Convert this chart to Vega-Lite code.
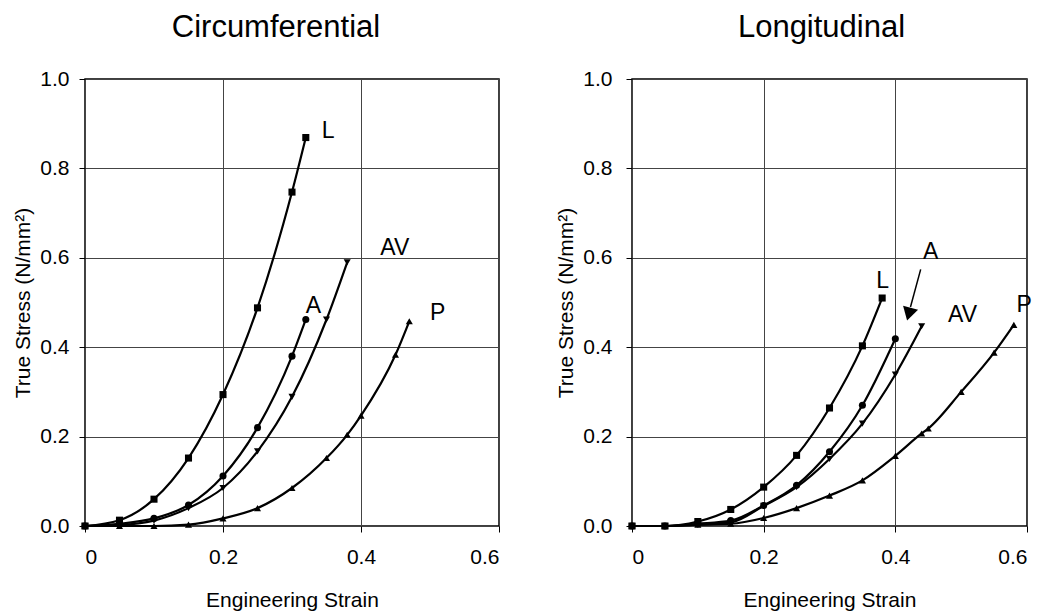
{
  "$schema": "https://vega.github.io/schema/vega-lite/v6.json",
  "background": "white",
  "padding": {"left": 12, "top": 11, "right": 5, "bottom": 5},
  "spacing": 54,
  "config": {
    "font": "Liberation Sans",
    "view": {"stroke": "black", "strokeWidth": 1.5},
    "axis": {
      "labelFont": "Liberation Sans", "labelFontSize": 21, "labelColor": "black",
      "titleFont": "Liberation Sans", "titleFontSize": 21, "titleFontWeight": "normal", "titleColor": "black",
      "gridColor": "#444", "gridWidth": 1, "gridOpacity": 1,
      "tickColor": "black", "tickSize": 6, "domain": false,
      "labelPadding": 10
    },
    "title": {"font": "Liberation Sans", "fontSize": 31, "fontWeight": "normal", "color": "black", "offset": 24}
  },
  "datasets": {
    "circ": [
      {"s": "L", "x": 0, "y": 0}, {"s": "L", "x": 0.05, "y": 0.013}, {"s": "L", "x": 0.1, "y": 0.06}, {"s": "L", "x": 0.15, "y": 0.152}, {"s": "L", "x": 0.2, "y": 0.294}, {"s": "L", "x": 0.25, "y": 0.488}, {"s": "L", "x": 0.3, "y": 0.747}, {"s": "L", "x": 0.32, "y": 0.869},
      {"s": "A", "x": 0, "y": 0}, {"s": "A", "x": 0.05, "y": 0.005}, {"s": "A", "x": 0.1, "y": 0.017}, {"s": "A", "x": 0.15, "y": 0.047}, {"s": "A", "x": 0.2, "y": 0.112}, {"s": "A", "x": 0.25, "y": 0.22}, {"s": "A", "x": 0.3, "y": 0.38}, {"s": "A", "x": 0.32, "y": 0.462},
      {"s": "AV", "x": 0, "y": 0}, {"s": "AV", "x": 0.05, "y": 0.002}, {"s": "AV", "x": 0.1, "y": 0.012}, {"s": "AV", "x": 0.15, "y": 0.04}, {"s": "AV", "x": 0.2, "y": 0.085}, {"s": "AV", "x": 0.25, "y": 0.167}, {"s": "AV", "x": 0.3, "y": 0.289}, {"s": "AV", "x": 0.35, "y": 0.462}, {"s": "AV", "x": 0.38, "y": 0.59},
      {"s": "P", "x": 0, "y": 0}, {"s": "P", "x": 0.05, "y": 0}, {"s": "P", "x": 0.1, "y": 0}, {"s": "P", "x": 0.15, "y": 0.003}, {"s": "P", "x": 0.2, "y": 0.017}, {"s": "P", "x": 0.25, "y": 0.04}, {"s": "P", "x": 0.3, "y": 0.085}, {"s": "P", "x": 0.35, "y": 0.152}, {"s": "P", "x": 0.38, "y": 0.204}, {"s": "P", "x": 0.4, "y": 0.247}, {"s": "P", "x": 0.45, "y": 0.383}, {"s": "P", "x": 0.47, "y": 0.458}
    ],
    "long": [
      {"s": "L", "x": 0, "y": 0}, {"s": "L", "x": 0.05, "y": 0}, {"s": "L", "x": 0.1, "y": 0.01}, {"s": "L", "x": 0.15, "y": 0.037}, {"s": "L", "x": 0.2, "y": 0.087}, {"s": "L", "x": 0.25, "y": 0.158}, {"s": "L", "x": 0.3, "y": 0.264}, {"s": "L", "x": 0.35, "y": 0.403}, {"s": "L", "x": 0.38, "y": 0.51},
      {"s": "A", "x": 0, "y": 0}, {"s": "A", "x": 0.05, "y": 0}, {"s": "A", "x": 0.1, "y": 0.005}, {"s": "A", "x": 0.15, "y": 0.012}, {"s": "A", "x": 0.2, "y": 0.046}, {"s": "A", "x": 0.25, "y": 0.091}, {"s": "A", "x": 0.3, "y": 0.166}, {"s": "A", "x": 0.35, "y": 0.27}, {"s": "A", "x": 0.4, "y": 0.419},
      {"s": "AV", "x": 0, "y": 0}, {"s": "AV", "x": 0.05, "y": 0}, {"s": "AV", "x": 0.1, "y": 0.003}, {"s": "AV", "x": 0.15, "y": 0.008}, {"s": "AV", "x": 0.2, "y": 0.045}, {"s": "AV", "x": 0.25, "y": 0.087}, {"s": "AV", "x": 0.3, "y": 0.15}, {"s": "AV", "x": 0.35, "y": 0.229}, {"s": "AV", "x": 0.4, "y": 0.339}, {"s": "AV", "x": 0.44, "y": 0.447},
      {"s": "P", "x": 0, "y": 0}, {"s": "P", "x": 0.05, "y": 0}, {"s": "P", "x": 0.1, "y": 0.003}, {"s": "P", "x": 0.15, "y": 0.005}, {"s": "P", "x": 0.2, "y": 0.018}, {"s": "P", "x": 0.25, "y": 0.04}, {"s": "P", "x": 0.3, "y": 0.068}, {"s": "P", "x": 0.35, "y": 0.102}, {"s": "P", "x": 0.4, "y": 0.157}, {"s": "P", "x": 0.44, "y": 0.207}, {"s": "P", "x": 0.45, "y": 0.218}, {"s": "P", "x": 0.5, "y": 0.3}, {"s": "P", "x": 0.55, "y": 0.388}, {"s": "P", "x": 0.58, "y": 0.45}
    ],
    "circLabels": [
      {"t": "L", "x": 0.343, "y": 0.884}, {"t": "A", "x": 0.32, "y": 0.492}, {"t": "AV", "x": 0.428, "y": 0.623}, {"t": "P", "x": 0.5, "y": 0.477}
    ],
    "longLabels": [
      {"t": "L", "x": 0.371, "y": 0.549}, {"t": "A", "x": 0.442, "y": 0.613}, {"t": "AV", "x": 0.48, "y": 0.471}, {"t": "P", "x": 0.584, "y": 0.495}
    ],
    "arrowLine": [{"x": 0.4385, "y": 0.574, "x2": 0.423, "y2": 0.49}],
    "arrowHead": [{"x": 0.4205, "y": 0.474}]
  },
  "hconcat": [
    {
      "width": 414, "height": 447,
      "title": {"text": "Circumferential", "dx": -16},
      "layer": [
        {
          "data": {"name": "circ"},
          "mark": {"type": "line", "interpolate": "monotone", "color": "black", "strokeWidth": 2.2},
          "encoding": {
            "x": {"field": "x", "type": "quantitative", "scale": {"domain": [0, 0.6]}, "axis": {"values": [0, 0.2, 0.4, 0.6], "title": "Engineering Strain", "labelPadding": 14, "titlePadding": 22, "labelExpr": "datum.value == 0 ? '0' : format(datum.value, '.1f')"}},
            "y": {"field": "y", "type": "quantitative", "scale": {"domain": [0, 1]}, "axis": {"values": [0, 0.2, 0.4, 0.6, 0.8, 1.0], "format": ".1f", "title": "True Stress (N/mm²)", "titlePadding": 6}},
            "detail": {"field": "s"}
          }
        },
        {
          "data": {"name": "circ"},
          "mark": {"type": "point", "filled": true, "color": "black", "opacity": 1, "size": 50},
          "encoding": {
            "x": {"field": "x", "type": "quantitative"},
            "y": {"field": "y", "type": "quantitative"},
            "shape": {"field": "s", "type": "nominal", "scale": {"domain": ["L", "A", "AV", "P"], "range": ["square", "circle", "triangle-down", "triangle-up"]}, "legend": null}
          }
        },
        {
          "data": {"name": "circLabels"},
          "mark": {"type": "text", "fontSize": 23, "color": "black", "align": "left", "baseline": "middle"},
          "encoding": {
            "x": {"field": "x", "type": "quantitative"},
            "y": {"field": "y", "type": "quantitative"},
            "text": {"field": "t"}
          }
        }
      ]
    },
    {
      "width": 395, "height": 447,
      "title": {"text": "Longitudinal", "dx": -8},
      "layer": [
        {
          "data": {"name": "long"},
          "mark": {"type": "line", "interpolate": "monotone", "color": "black", "strokeWidth": 2.2},
          "encoding": {
            "x": {"field": "x", "type": "quantitative", "scale": {"domain": [0, 0.6]}, "axis": {"values": [0, 0.2, 0.4, 0.6], "title": "Engineering Strain", "labelPadding": 14, "titlePadding": 22, "labelExpr": "datum.value == 0 ? '0' : format(datum.value, '.1f')"}},
            "y": {"field": "y", "type": "quantitative", "scale": {"domain": [0, 1]}, "axis": {"values": [0, 0.2, 0.4, 0.6, 0.8, 1.0], "format": ".1f", "title": "True Stress (N/mm²)", "labelPadding": 14, "titlePadding": 6}},
            "detail": {"field": "s"}
          }
        },
        {
          "data": {"name": "long"},
          "mark": {"type": "point", "filled": true, "color": "black", "opacity": 1, "size": 50},
          "encoding": {
            "x": {"field": "x", "type": "quantitative"},
            "y": {"field": "y", "type": "quantitative"},
            "shape": {"field": "s", "type": "nominal", "scale": {"domain": ["L", "A", "AV", "P"], "range": ["square", "circle", "triangle-down", "triangle-up"]}, "legend": null}
          }
        },
        {
          "data": {"name": "longLabels"},
          "mark": {"type": "text", "fontSize": 23, "color": "black", "align": "left", "baseline": "middle"},
          "encoding": {
            "x": {"field": "x", "type": "quantitative"},
            "y": {"field": "y", "type": "quantitative"},
            "text": {"field": "t"}
          }
        },
        {
          "data": {"name": "arrowLine"},
          "mark": {"type": "rule", "color": "black", "strokeWidth": 1.5},
          "encoding": {
            "x": {"field": "x", "type": "quantitative"},
            "y": {"field": "y", "type": "quantitative"},
            "x2": {"field": "x2"},
            "y2": {"field": "y2"}
          }
        },
        {
          "data": {"name": "arrowHead"},
          "mark": {"type": "point", "shape": "triangle-down", "filled": true, "color": "black", "opacity": 1, "size": 240, "angle": 15},
          "encoding": {
            "x": {"field": "x", "type": "quantitative"},
            "y": {"field": "y", "type": "quantitative"}
          }
        }
      ]
    }
  ]
}
